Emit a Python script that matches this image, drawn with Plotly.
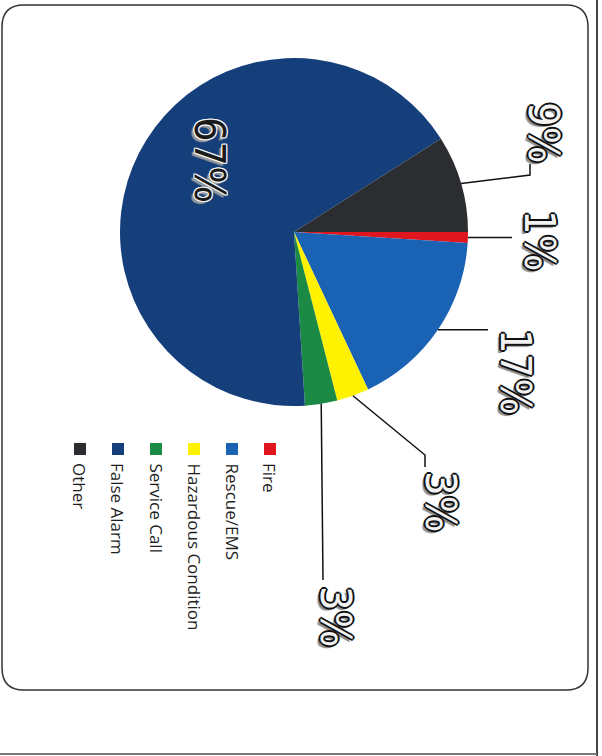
import math
import plotly.graph_objects as go

# ---- data ----
categories = ["Fire", "Rescue/EMS", "Hazardous Condition", "Service Call", "False Alarm", "Other"]
values = [1, 17, 3, 3, 67, 9]
colors = ["#E0161F", "#1A62B4", "#FFF200", "#1B8A45", "#143F7B", "#2B2D30"]
pct_labels = ["1%", "17%", "3%", "3%", "67%", "9%"]

W, H = 602, 756
CX, CY, R = 294, 232, 174  # pie centre / radius in px

def px(x):
    return x / W

def py(y):
    return 1 - y / H

fig = go.Figure()
fig.add_trace(go.Pie(
    labels=categories, values=values, sort=False,
    direction="clockwise", rotation=90,
    marker=dict(colors=colors, line=dict(width=0)),
    textinfo="none", hoverinfo="label+percent",
    showlegend=False,
    domain=dict(x=[px(CX - R), px(CX + R)], y=[py(CY + R), py(CY - R)]),
))

# label placement (px) for each slice: label centre, leader elbow points
label_pos = {
    0: dict(c=(540, 240), path=[(512, None)]),
    1: dict(c=(516, 372), path=[(488, None)]),
    2: dict(c=(441, 501), path=[(425, 455), (425, 467)]),
    3: dict(c=(336, 616), path=[(323, 580)]),
    4: dict(c=(210, 160), path=None),
    5: dict(c=(544, 132), path=[(530, 175), (530, 164)]),
}

total = sum(values)
start = 0.0  # degrees, clockwise from east (screen)
ring = [(1, 0), (-1, 0), (0, 1), (0, -1), (1, 1), (-1, -1), (1, -1), (-1, 1),
        (2, 0), (-2, 0), (0, 2), (0, -2)]
outline = ", ".join(f"{dx}px {dy}px 0 #111" for dx, dy in ring)
shadow_out = outline + ", 3px 3px 1px #8a8a8a"
inside_outline = ", ".join(f"{dx}px {dy}px 0 #f4f4f4" for dx, dy in ring[:8])
shadow_in = inside_outline + ", 3px 3px 1px #9a9a9a"

for i, v in enumerate(values):
    ang = v / total * 360
    mid = math.radians(start + ang / 2)
    start += ang
    sx, sy = CX + R * math.cos(mid), CY + R * math.sin(mid)
    info = label_pos[i]
    inside = info["path"] is None
    fig.add_annotation(
        x=px(info["c"][0]), y=py(info["c"][1]), xref="paper", yref="paper",
        text=pct_labels[i], showarrow=False, textangle=90,
        xanchor="center", yanchor="middle",
        font=dict(family="Liberation Sans Narrow, DejaVu Sans Condensed, sans-serif",
                  size=43, color="#1a1a1a" if inside else "#f2f2f2",
                  shadow=shadow_in if inside else shadow_out),
    )
    if not inside:
        pts = [(sx, sy)]
        for (x, y) in info["path"]:
            pts.append((x, sy if y is None else y))
        d = "M " + " L ".join(f"{px(x)},{py(y)}" for x, y in pts)
        fig.add_shape(type="path", path=d, xref="paper", yref="paper",
                      line=dict(color="#111", width=1.5))

# legend (rotated)
leg_x = [270, 232, 194, 156, 118, 80]
for i, name in enumerate(categories):
    x = leg_x[i]
    fig.add_shape(type="rect", xref="paper", yref="paper",
                  x0=px(x - 6), x1=px(x + 6), y0=py(455), y1=py(443),
                  fillcolor=colors[i], line=dict(width=0))
    fig.add_annotation(
        x=px(x), y=py(461), xref="paper", yref="paper", text=name,
        showarrow=False, textangle=90, xanchor="center", yanchor="top",
        font=dict(family="Open Sans, Noto Sans, sans-serif", size=17, color="#1e1e1e"),
    )

# frame (rounded rectangle) and page edges
r = 22
x0, y0, x1, y1 = 2, 5, 588, 690
frame = (f"M {x0 + r},{y0} L {x1 - r},{y0} Q {x1},{y0} {x1},{y0 + r} "
         f"L {x1},{y1 - r} Q {x1},{y1} {x1 - r},{y1} L {x0 + r},{y1} "
         f"Q {x0},{y1} {x0},{y1 - r} L {x0},{y0 + r} Q {x0},{y0} {x0 + r},{y0} Z")
fig.add_shape(type="path", path=frame, xref="x", yref="y",
              line=dict(color="#333", width=1.5))
fig.add_shape(type="line", xref="x", yref="y", x0=597, x1=597, y0=0, y1=756,
              line=dict(color="#444", width=2))
fig.add_shape(type="line", xref="x", yref="y", x0=0, x1=597, y0=754, y1=754,
              line=dict(color="#777", width=2))

fig.update_layout(
    width=W, height=H, margin=dict(l=0, r=0, t=0, b=0),
    paper_bgcolor="white", plot_bgcolor="rgba(0,0,0,0)",
    xaxis=dict(range=[0, W], visible=False, fixedrange=True),
    yaxis=dict(range=[H, 0], visible=False, fixedrange=True),
    showlegend=False,
)
fig.write_html("out.html", config={"displayModeBar": False},
               post_script="document.body.style.margin='0';document.body.style.overflow='hidden';")
